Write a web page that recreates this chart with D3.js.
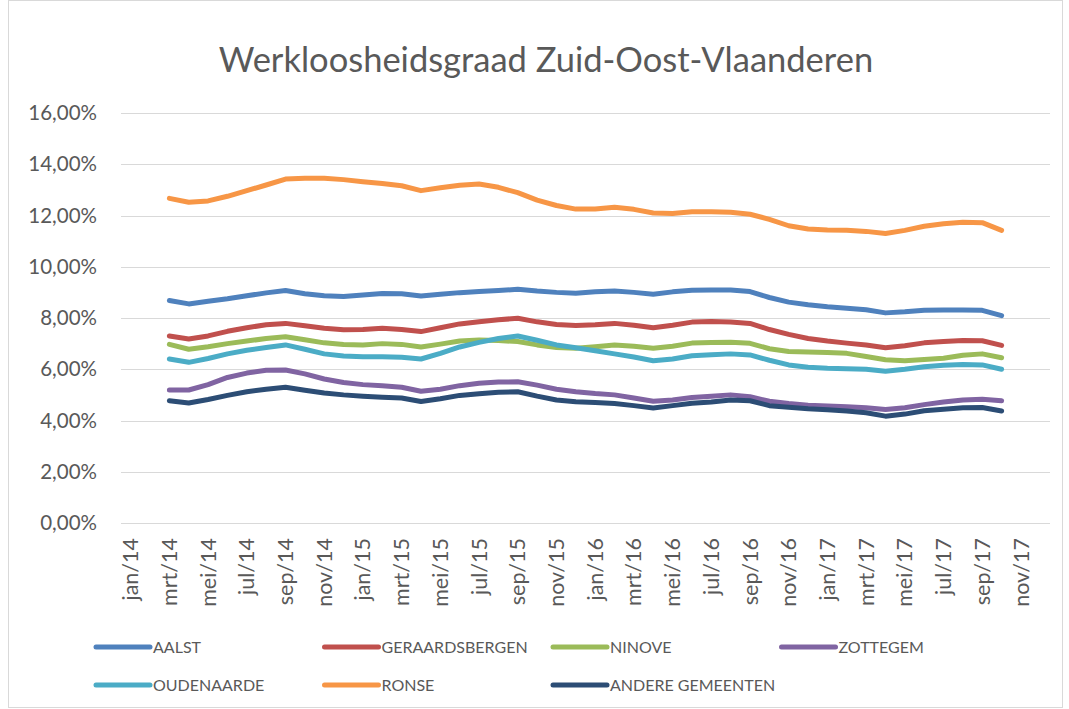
<!DOCTYPE html>
<html>
<head>
<meta charset="utf-8">
<script src="https://cdn.jsdelivr.net/npm/d3@7"></script>
<style>
  body { margin: 0; background: #fff; }
  svg text { font-family: Lato, 'Open Sans', sans-serif; fill: #595959; }
</style>
</head>
<body>
<svg id="chart" width="1069" height="709"></svg>
<script>
// axis runs jan/14 .. dec/17, one band per month
var axisMonths = [
  'jan/14','feb/14','mrt/14','apr/14','mei/14','jun/14','jul/14','aug/14','sep/14','okt/14','nov/14','dec/14',
  'jan/15','feb/15','mrt/15','apr/15','mei/15','jun/15','jul/15','aug/15','sep/15','okt/15','nov/15','dec/15',
  'jan/16','feb/16','mrt/16','apr/16','mei/16','jun/16','jul/16','aug/16','sep/16','okt/16','nov/16','dec/16',
  'jan/17','feb/17','mrt/17','apr/17','mei/17','jun/17','jul/17','aug/17','sep/17','okt/17','nov/17','dec/17'
];
var tickLabels = [
  'jan/14','mrt/14','mei/14','jul/14','sep/14','nov/14','jan/15','mrt/15','mei/15','jul/15','sep/15','nov/15',
  'jan/16','mrt/16','mei/16','jul/16','sep/16','nov/16','jan/17','mrt/17','mei/17','jul/17','sep/17','nov/17'
];
var yTicks = [0, 2, 4, 6, 8, 10, 12, 14, 16];

// months with data (mrt/14 .. okt/17)
var months = [
  'mrt/14','apr/14','mei/14','jun/14','jul/14','aug/14','sep/14','okt/14','nov/14','dec/14',
  'jan/15','feb/15','mrt/15','apr/15','mei/15','jun/15','jul/15','aug/15','sep/15','okt/15','nov/15','dec/15',
  'jan/16','feb/16','mrt/16','apr/16','mei/16','jun/16','jul/16','aug/16','sep/16','okt/16','nov/16','dec/16',
  'jan/17','feb/17','mrt/17','apr/17','mei/17','jun/17','jul/17','aug/17','sep/17','okt/17'
];

// unemployment rate in %
var aalst = [8.68,8.55,8.65,8.75,8.87,8.98,9.07,8.95,8.87,8.84,8.90,8.96,8.95,8.86,8.93,8.99,9.03,9.07,9.12,9.05,
  9.00,8.97,9.02,9.05,9.00,8.93,9.02,9.08,9.09,9.09,9.03,8.80,8.62,8.52,8.44,8.38,8.32,8.20,8.24,8.30,8.31,8.31,8.30,8.09];
var geraardsbergen = [7.30,7.18,7.30,7.48,7.62,7.74,7.79,7.70,7.60,7.54,7.55,7.60,7.55,7.47,7.62,7.77,7.85,7.93,7.99,7.85,
  7.75,7.71,7.74,7.79,7.72,7.62,7.72,7.84,7.86,7.84,7.79,7.55,7.36,7.20,7.10,7.02,6.95,6.84,6.92,7.03,7.08,7.12,7.11,6.93];
var ninove = [6.97,6.78,6.88,7.00,7.10,7.20,7.27,7.15,7.03,6.97,6.95,7.00,6.97,6.87,6.98,7.10,7.14,7.12,7.08,6.95,
  6.85,6.82,6.88,6.95,6.90,6.82,6.90,7.02,7.04,7.05,7.01,6.80,6.69,6.67,6.65,6.62,6.50,6.37,6.33,6.38,6.43,6.55,6.60,6.45];
var zottegem = [5.19,5.19,5.40,5.68,5.85,5.96,5.97,5.82,5.62,5.48,5.40,5.36,5.30,5.14,5.22,5.36,5.45,5.50,5.51,5.38,
  5.22,5.12,5.05,5.00,4.88,4.75,4.80,4.90,4.95,5.00,4.93,4.75,4.66,4.60,4.57,4.54,4.50,4.43,4.50,4.62,4.72,4.80,4.83,4.77];
var oudenaarde = [6.40,6.27,6.42,6.60,6.74,6.85,6.95,6.78,6.60,6.52,6.49,6.49,6.47,6.40,6.62,6.87,7.05,7.20,7.30,7.13,
  6.95,6.84,6.72,6.60,6.48,6.33,6.40,6.53,6.57,6.60,6.56,6.35,6.17,6.08,6.04,6.02,6.00,5.92,6.00,6.10,6.16,6.19,6.17,6.00];
var ronse = [12.67,12.52,12.57,12.75,12.97,13.19,13.42,13.45,13.45,13.40,13.32,13.25,13.16,12.97,13.08,13.18,13.23,13.10,12.89,12.60,
  12.39,12.25,12.25,12.32,12.24,12.10,12.08,12.15,12.15,12.13,12.05,11.85,11.60,11.47,11.43,11.42,11.38,11.30,11.42,11.58,11.68,11.74,11.72,11.42];
var andere = [4.77,4.68,4.82,4.98,5.12,5.22,5.30,5.18,5.07,5.00,4.95,4.91,4.88,4.74,4.85,4.98,5.04,5.10,5.12,4.95,
  4.80,4.73,4.70,4.66,4.58,4.49,4.58,4.67,4.72,4.80,4.77,4.58,4.52,4.46,4.42,4.37,4.30,4.17,4.25,4.38,4.44,4.50,4.51,4.37];

var seriesNames = ['AALST','GERAARDSBERGEN','NINOVE','ZOTTEGEM','OUDENAARDE','RONSE','ANDERE GEMEENTEN'];
var seriesValues = [aalst, geraardsbergen, ninove, zottegem, oudenaarde, ronse, andere];
var seriesColors = ['#4f81bd','#c0504d','#9bbb59','#8064a2','#4bacc6','#f79646','#2c4d75'];

var size = { w: 1069, h: 709, left: 121, right: 1050, top: 113, bottom: 523 };
var svg = d3.select('#chart');

// chart border
svg.append('rect')
  .attr('x', 8.5).attr('y', 0.5)
  .attr('width', 1054).attr('height', 707)
  .attr('fill', 'none')
  .attr('stroke', '#d9d9d9');

// title
svg.append('text')
  .attr('x', 546).attr('y', 72)
  .attr('text-anchor', 'middle')
  .style('font-size', '34.5px')
  .text('Werkloosheidsgraad Zuid-Oost-Vlaanderen');

var x = d3.scaleBand().domain(axisMonths).range([size.left, size.right]);
var y = d3.scaleLinear().domain([0, 16]).range([size.bottom, size.top]);
var cx = function(m) { return x(m) + x.bandwidth()/2; };

// gridlines
svg.append('g').selectAll('line').data(yTicks).enter().append('line')
  .attr('x1', size.left).attr('x2', size.right)
  .attr('y1', function(d) { return Math.round(y(d)) + 0.5; })
  .attr('y2', function(d) { return Math.round(y(d)) + 0.5; })
  .attr('stroke', '#d9d9d9')
  .attr('stroke-width', 1);

// y axis labels
var yAxis = d3.axisLeft(y)
  .tickValues(yTicks)
  .tickSize(0)
  .tickPadding(0)
  .tickFormat(function(d) { return d3.format('.2f')(d).replace('.', ',') + '%'; });
var gy = svg.append('g')
  .attr('transform', 'translate(97,0)')
  .call(yAxis);
gy.select('.domain').remove();
gy.selectAll('text')
  .style('font-size', '20.5px')
  .style('font-family', 'Lato, sans-serif')
  .attr('fill', '#595959');

// x axis labels, rotated
var xAxis = d3.axisBottom(x).tickValues(tickLabels).tickSize(0);
var gx = svg.append('g')
  .attr('transform', 'translate(0,' + size.bottom + ')')
  .call(xAxis);
gx.select('.domain').remove();
gx.selectAll('text')
  .attr('transform', 'rotate(-90)')
  .attr('x', -15)
  .attr('y', 0)
  .attr('dy', '0.35em')
  .attr('text-anchor', 'end')
  .style('font-size', '21.5px')
  .style('font-family', 'Lato, sans-serif')
  .attr('fill', '#595959');

// lines
var line = d3.line()
  .x(function(d, i) { return cx(months[i]); })
  .y(function(d) { return y(d); });

svg.append('g').selectAll('path').data(seriesValues).enter().append('path')
  .attr('d', line)
  .attr('fill', 'none')
  .attr('stroke', function(d, i) { return seriesColors[i]; })
  .attr('stroke-width', 5)
  .attr('stroke-linecap', 'round')
  .attr('stroke-linejoin', 'round');

// legend: 4 columns, 2 rows
var legend = svg.append('g').selectAll('g').data(seriesNames).enter().append('g')
  .attr('transform', function(d, i) {
    return 'translate(' + [96 + (i % 4)*228.5, 647 + Math.floor(i/4)*38].join(',') + ')';
  });
legend.append('line')
  .attr('x1', 0).attr('x2', 54)
  .attr('stroke', function(d, i) { return seriesColors[i]; })
  .attr('stroke-width', 5)
  .attr('stroke-linecap', 'round');
legend.append('text')
  .attr('x', 57)
  .attr('dy', '0.36em')
  .style('font-size', '16px')
  .text(function(d) { return d; });
</script>
</body>
</html>
